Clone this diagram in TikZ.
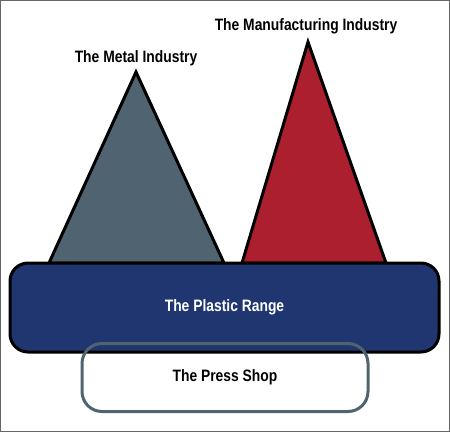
\documentclass[tikz,border=0pt]{standalone}
\usepackage{fontspec}
\setmainfont{Liberation Sans}[FakeStretch=0.84]
\definecolor{metalgrey}{HTML}{4F6470}
\definecolor{makered}{HTML}{AB1F2E}
\definecolor{plasticblue}{HTML}{1F3670}
\tikzset{
    peak/.style={draw=black, line width=3pt, line join=miter},
    label/.style={font=\bfseries\fontsize{16.5}{18}\selectfont, inner sep=0pt},
    band/.style={draw=black, line width=3pt, rounded corners=18pt, fill=plasticblue,
        minimum width=429pt, minimum height=89pt, text=white},
    shop/.style={draw=metalgrey, line width=3pt, rounded corners=20pt,
        minimum width=286pt, minimum height=68pt}
}
\begin{document}
\begin{tikzpicture}[x=1pt, y=-1pt]
    \useasboundingbox (0,0) rectangle (450,432);
    \draw[gray!80!black, line width=1pt] (0.5,0.5) rectangle (449.5,431.5);
    % the two industries
    \coordinate (metaltop) at (136,72);
    \coordinate (maketop) at (308,42);
    \filldraw[peak, fill=metalgrey] (metaltop) -- (224,263) -- (49,263) -- cycle;
    \filldraw[peak, fill=makered] (maketop) -- (386,263) -- (242,263) -- cycle;
    \node[label, anchor=base] (metal) at (136,62) {The Metal Industry};
    \node[label, anchor=base] (make) at (306,30) {The Manufacturing Industry};
    % the range and the shop
    \node[band, label] (plastic) at (224.5,307.5) {The Plastic Range};
    \node[shop, label] (press) at (225,377.5) {The Press Shop};
\end{tikzpicture}
\end{document}
